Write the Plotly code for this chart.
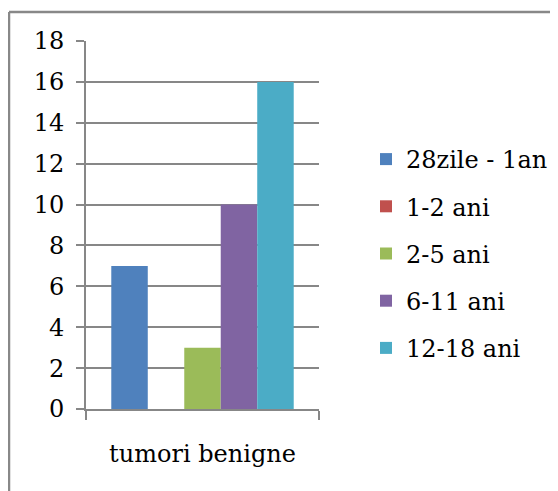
import plotly.graph_objects as go

categories = ["tumori benigne"]
series_names = ["28zile - 1an", "1-2 ani", "2-5 ani", "6-11 ani", "12-18 ani"]
series_values = [[7], [0], [3], [10], [16]]
series_colors = ["#4F81BD", "#C0504D", "#9BBB59", "#8064A2", "#4BACC6"]
y_ticks = [0, 2, 4, 6, 8, 10, 12, 14, 16, 18]

W, H = 558, 491
OFF = 8  # page body margin offset
L, R, T, B = 86 - OFF, 319 - OFF, 41 - OFF, 409 - OFF  # plot area pixel box

fig = go.Figure()
for name, vals, col in zip(series_names, series_values, series_colors):
    fig.add_trace(go.Bar(x=categories, y=vals, name=name, marker_color=col,
                         marker_line_width=0, legendgroup=name))

def px_x(p):
    return (p - OFF - L) / (R - L)

def px_y(p):
    return (B - (p - OFF)) / (B - T)

font = dict(family="DejaVu Serif", size=24, color="black")
grid = "#878787"

fig.update_layout(
    width=W, height=H,
    margin=dict(l=L, r=W - R, t=T, b=H - B, pad=0, autoexpand=False),
    paper_bgcolor="white", plot_bgcolor="white",
    font=font,
    barmode="group", bargap=0.217, bargroupgap=0,
    showlegend=True,
    legend=dict(x=px_x(366), y=px_y(137), xanchor="left", yanchor="top",
                tracegroupgap=13, font=font, bgcolor="rgba(0,0,0,0)"),
    xaxis=dict(showgrid=False, showline=True, linecolor=grid, linewidth=2,
               ticks="outside", tickson="boundaries", ticklen=9, tickcolor=grid,
               tickwidth=2, ticklabelstandoff=22, range=[-0.5, 0.5],
               tickangle=0, automargin=False, tickfont=font),
    yaxis=dict(range=[0, 18], tickvals=y_ticks, showgrid=True, gridcolor=grid,
               gridwidth=2, showline=True, linecolor=grid, linewidth=2,
               ticks="outside", ticklen=8, tickcolor=grid, tickwidth=2,
               ticklabelstandoff=7, zeroline=False, automargin=False,
               tickfont=font),
    shapes=[
        dict(type="line", xref="paper", yref="paper", x0=px_x(9), x1=px_x(570),
             y0=px_y(12), y1=px_y(12), line=dict(color="#888888", width=2.5)),
        dict(type="line", xref="paper", yref="paper", x0=px_x(9), x1=px_x(9),
             y0=px_y(12), y1=px_y(500), line=dict(color="#888888", width=2.5)),
    ],
)

fig.write_html("out.html")
